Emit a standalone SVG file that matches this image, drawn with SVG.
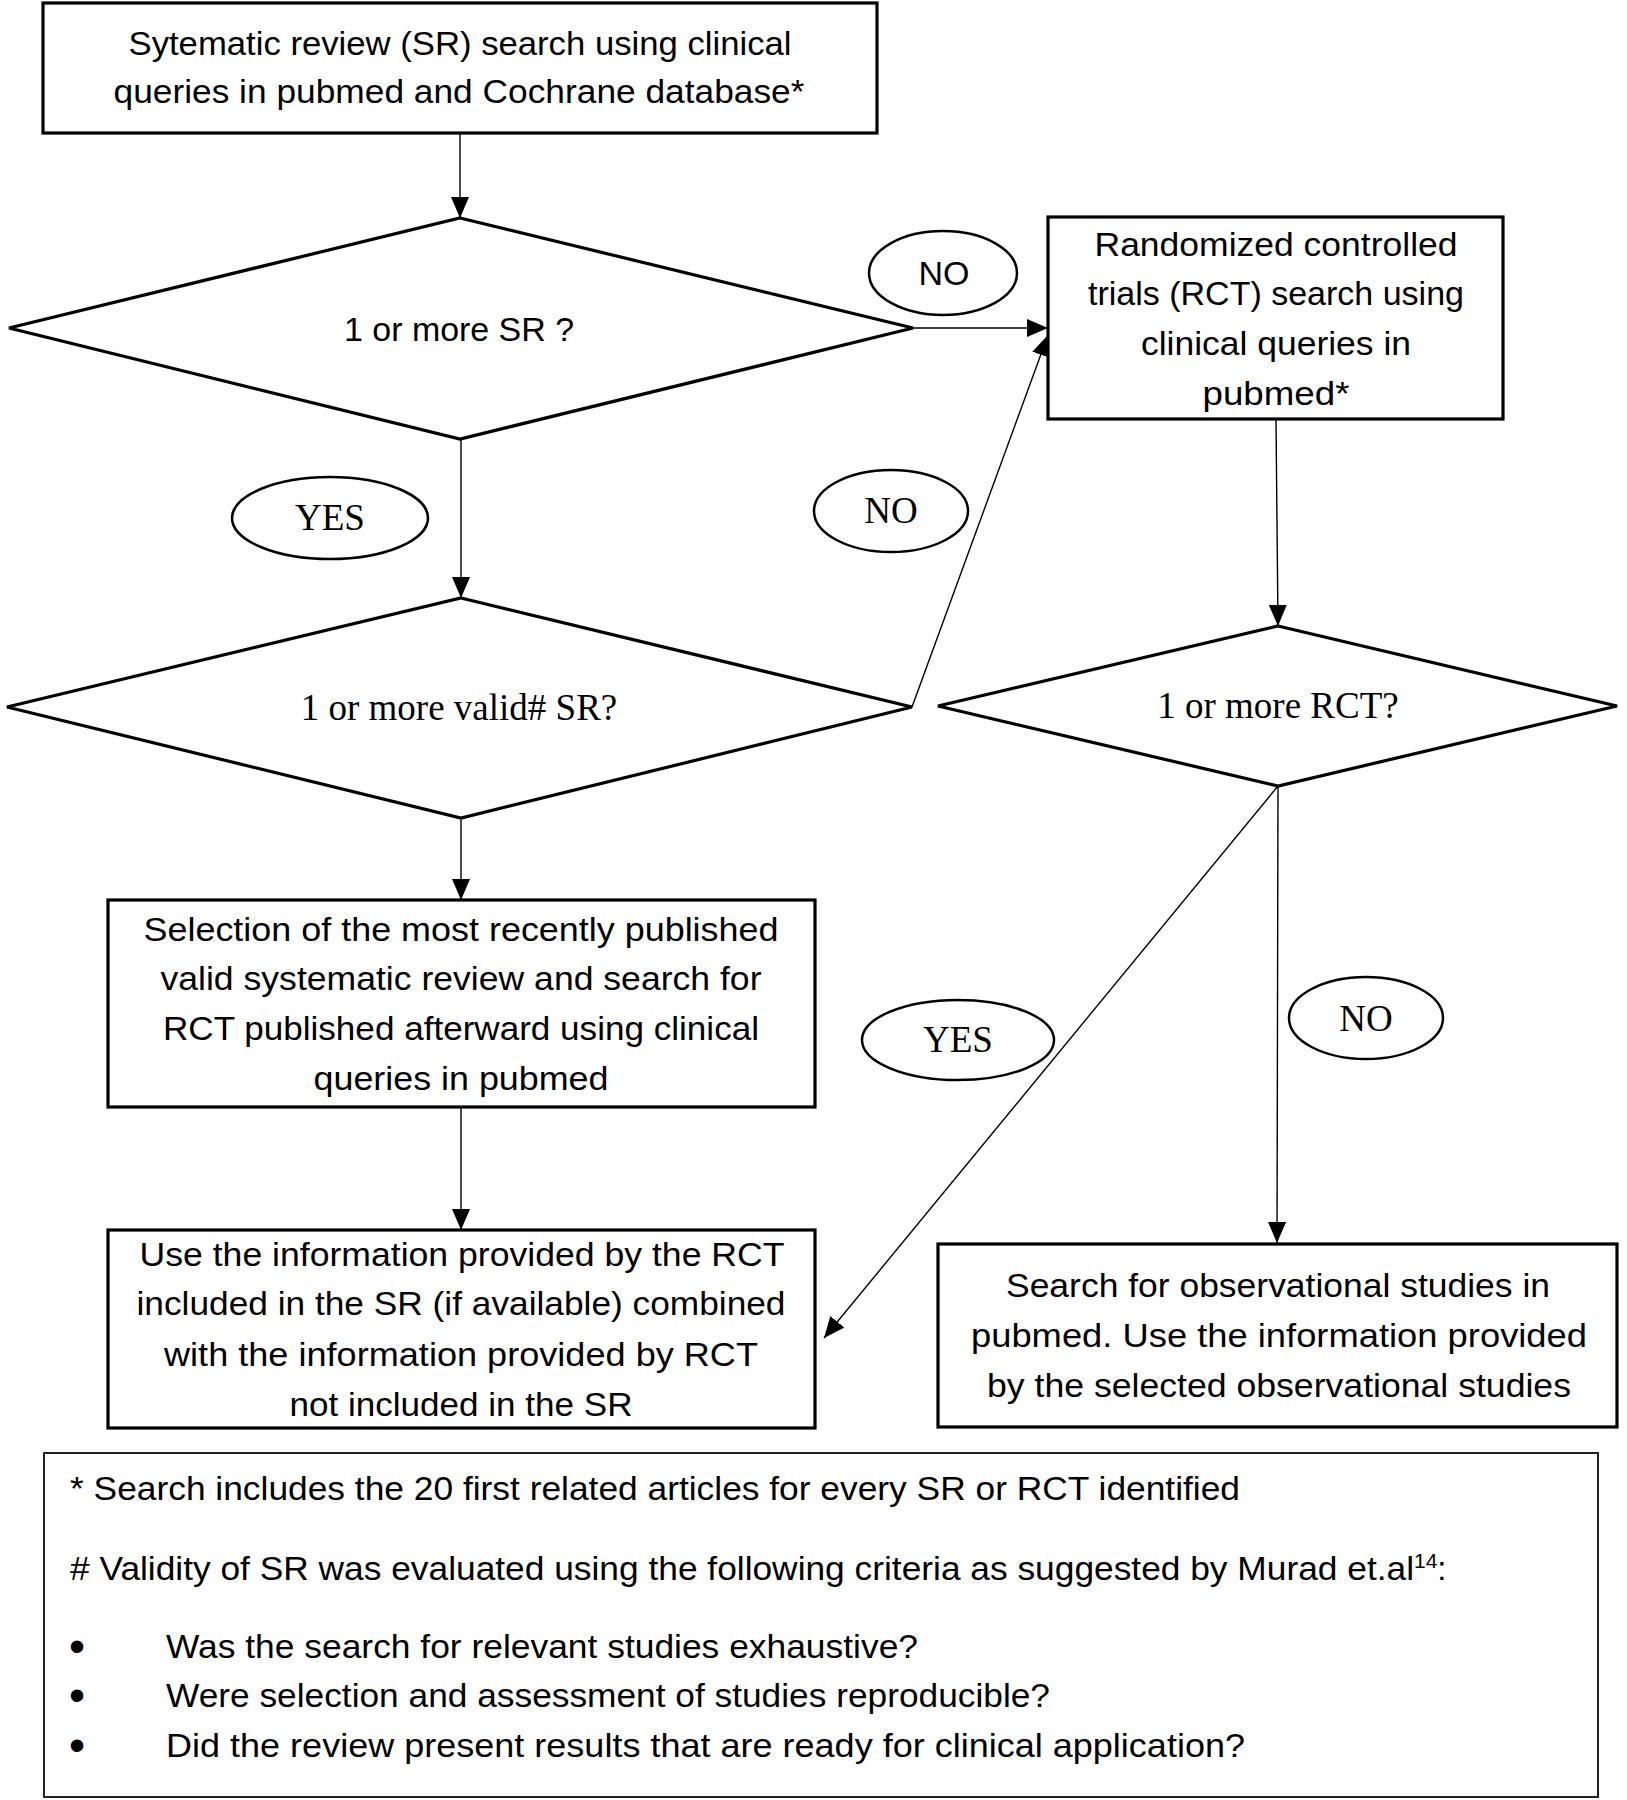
<svg xmlns="http://www.w3.org/2000/svg" width="1627" height="1800" viewBox="0 0 1627 1800">
<style>
.box{fill:#fff;stroke:#000;stroke-width:3.2}
.ell{fill:#fff;stroke:#000;stroke-width:2.5}
.con{fill:none;stroke:#000;stroke-width:1.4}
.s{font-family:"Liberation Sans",Arial,sans-serif;font-size:34px;fill:#000}
.f{font-family:"Liberation Sans",Arial,sans-serif;font-size:33px;fill:#000}
.b{font-family:"Liberation Sans",Arial,sans-serif;font-size:46px;fill:#000}
.r{font-family:"Liberation Serif","Times New Roman",serif;font-size:37px;fill:#000}
.m{text-anchor:middle}
</style>
<defs>
<marker id="ah" markerUnits="userSpaceOnUse" markerWidth="22" markerHeight="20" refX="21" refY="9" orient="auto">
<path d="M0,0 L21,9 L0,18 z" fill="#000"/>
</marker>
</defs>
<rect width="1627" height="1800" fill="#fff"/>
<g id="connectors">
<line class="con" x1="460" y1="133" x2="460" y2="218" marker-end="url(#ah)"/>
<line class="con" x1="913" y1="328" x2="1048" y2="328" marker-end="url(#ah)"/>
<line class="con" x1="912" y1="707" x2="1048" y2="335" marker-end="url(#ah)"/>
<line class="con" x1="461" y1="439" x2="461" y2="598" marker-end="url(#ah)"/>
<line class="con" x1="1276" y1="419" x2="1278" y2="626" marker-end="url(#ah)"/>
<line class="con" x1="461" y1="818" x2="461" y2="900" marker-end="url(#ah)"/>
<line class="con" x1="461" y1="1107" x2="461" y2="1230" marker-end="url(#ah)"/>
<line class="con" x1="1278" y1="786" x2="824" y2="1338" marker-end="url(#ah)"/>
<line class="con" x1="1278" y1="786" x2="1277" y2="1243" marker-end="url(#ah)"/>
</g>
<g id="n-start">
<rect class="box" x="43" y="3" width="834" height="130"/>
<text class="s m" x="460" y="55" textLength="663" lengthAdjust="spacingAndGlyphs">Sytematic review (SR) search using clinical</text>
<text class="s m" x="459" y="103" textLength="691" lengthAdjust="spacingAndGlyphs">queries in pubmed and Cochrane database*</text>
</g>
<g id="n-d1">
<polygon class="box" points="460,218 913,328 460,439 9,328"/>
<text class="s m" x="459" y="341" textLength="230" lengthAdjust="spacingAndGlyphs">1 or more SR ?</text>
</g>
<g id="n-no1">
<ellipse class="ell" cx="943" cy="273" rx="74" ry="42"/>
<text class="s m" x="944" y="285" font-size="33">NO</text>
</g>
<g id="n-rct">
<rect class="box" x="1048" y="217" width="455" height="202"/>
<text class="s m" x="1276" y="256" textLength="363" lengthAdjust="spacingAndGlyphs">Randomized controlled</text>
<text class="s m" x="1276" y="305" textLength="376" lengthAdjust="spacingAndGlyphs">trials (RCT) search using</text>
<text class="s m" x="1276" y="355" textLength="270" lengthAdjust="spacingAndGlyphs">clinical queries in</text>
<text class="s m" x="1276" y="405" textLength="147" lengthAdjust="spacingAndGlyphs">pubmed*</text>
</g>
<g id="n-yes1">
<ellipse class="ell" cx="330" cy="518" rx="98" ry="41"/>
<text class="r m" x="330" y="530">YES</text>
</g>
<g id="n-no2">
<ellipse class="ell" cx="891" cy="511" rx="77" ry="41"/>
<text class="r m" x="891" y="523">NO</text>
</g>
<g id="n-d2">
<polygon class="box" points="461,598 912,707 461,818 7,707"/>
<text class="r m" x="459" y="720" font-size="38">1 or more valid# SR?</text>
</g>
<g id="n-d3">
<polygon class="box" points="1278,626 1617,706 1278,786 938,706"/>
<text class="r m" x="1278" y="718" font-size="38">1 or more RCT?</text>
</g>
<g id="n-sel">
<rect class="box" x="108" y="900" width="707" height="207"/>
<text class="s m" x="461" y="941" textLength="635" lengthAdjust="spacingAndGlyphs">Selection of the most recently published</text>
<text class="s m" x="461" y="990" textLength="601" lengthAdjust="spacingAndGlyphs">valid systematic review and search for</text>
<text class="s m" x="461" y="1040" textLength="596" lengthAdjust="spacingAndGlyphs">RCT published afterward using clinical</text>
<text class="s m" x="461" y="1090" textLength="295" lengthAdjust="spacingAndGlyphs">queries in pubmed</text>
</g>
<g id="n-yes2">
<ellipse class="ell" cx="958" cy="1040" rx="96" ry="40"/>
<text class="r m" x="958" y="1052">YES</text>
</g>
<g id="n-no3">
<ellipse class="ell" cx="1366" cy="1018" rx="77" ry="41"/>
<text class="r m" x="1366" y="1031">NO</text>
</g>
<g id="n-use">
<rect class="box" x="108" y="1230" width="707" height="198"/>
<text class="s m" x="462" y="1266" textLength="645" lengthAdjust="spacingAndGlyphs">Use the information provided by the RCT</text>
<text class="s m" x="461" y="1315" textLength="649" lengthAdjust="spacingAndGlyphs">included in the SR (if available) combined</text>
<text class="s m" x="461" y="1366" textLength="594" lengthAdjust="spacingAndGlyphs">with the information provided by RCT</text>
<text class="s m" x="461" y="1416" textLength="343" lengthAdjust="spacingAndGlyphs">not included in the SR</text>
</g>
<g id="n-obs">
<rect class="box" x="938" y="1244" width="679" height="183"/>
<text class="s m" x="1278" y="1297" textLength="544" lengthAdjust="spacingAndGlyphs">Search for observational studies in</text>
<text class="s m" x="1279" y="1347" textLength="616" lengthAdjust="spacingAndGlyphs">pubmed. Use the information provided</text>
<text class="s m" x="1279" y="1397" textLength="584" lengthAdjust="spacingAndGlyphs">by the selected observational studies</text>
</g>
<g id="n-notes">
<rect x="44" y="1453" width="1554" height="344" fill="#fff" stroke="#222" stroke-width="2"/>
<text class="f" x="70" y="1500" textLength="1170" lengthAdjust="spacingAndGlyphs">* Search includes the 20 first related articles for every SR or RCT identified</text>
<text class="f" x="70" y="1580"><tspan textLength="1344" lengthAdjust="spacingAndGlyphs"># Validity of SR was evaluated using the following criteria as suggested by Murad et.al</tspan><tspan font-size="21" dy="-12">14</tspan><tspan dy="12">:</tspan></text>
<text class="b" x="69" y="1662">•</text>
<text class="f" x="166" y="1658" textLength="752" lengthAdjust="spacingAndGlyphs">Was the search for relevant studies exhaustive?</text>
<text class="b" x="69" y="1711">•</text>
<text class="f" x="166" y="1707" textLength="884" lengthAdjust="spacingAndGlyphs">Were selection and assessment of studies reproducible?</text>
<text class="b" x="69" y="1761">•</text>
<text class="f" x="166" y="1757" textLength="1079" lengthAdjust="spacingAndGlyphs">Did the review present results that are ready for clinical application?</text>
</g>
</svg>
